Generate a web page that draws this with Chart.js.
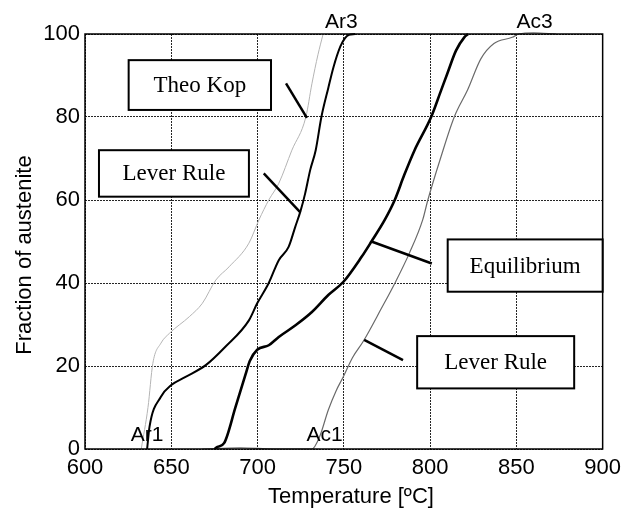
<!DOCTYPE html>
<html>
<head>
<meta charset="utf-8">
<script src="https://cdn.jsdelivr.net/npm/chart.js@4.4.1/dist/chart.umd.min.js"></script>
<style>
  html, body { margin: 0; padding: 0; background: #fff; }
  #wrap { width: 627px; height: 511px; }
</style>
</head>
<body>
<div id="wrap"><canvas id="chart1" width="627" height="511"></canvas></div>
<script>
// temperature [ºC] and austenite fraction [%] for each curve
var theoKopT = [632.6, 636.5, 639.3, 644, 649, 660.5, 668, 675.8, 683.5, 695, 700.8, 706.5, 712.3, 719.9, 728, 731.5, 735, 738];
var theoKopF = [0, 10, 20.6, 25.5, 27.9, 31.9, 35.1, 40.7, 43.9, 49.6, 55.2, 60, 64, 72, 80, 88, 95, 100];

var leverCoolT = [636, 637.4, 644, 650, 658, 670, 681.5, 695, 699.8, 706.5, 712.3, 718, 721.9, 724.8, 727.6, 730.5, 733.7, 737, 741, 744, 748, 750.7, 753, 756.5];
var leverCoolF = [0, 5.4, 12.6, 15.4, 17.3, 20.2, 24.7, 31, 35.1, 40, 45.5, 48.7, 53.6, 57.2, 61.6, 67.2, 72, 80, 87, 92, 97, 99, 99.8, 100];

var equilT = [675, 676.8, 680.6, 687.3, 693, 695.5, 699.8, 706.5, 712.3, 722, 731.5, 741, 749.8, 760.3, 766, 773.7, 779.5, 785, 791, 800.6, 806, 810, 815, 819.8, 822];
var equilF = [0, 0.5, 1.4, 10.2, 17.9, 21.2, 23.9, 25, 27, 29.8, 33, 37.1, 40.3, 46.3, 50, 55.2, 60, 66, 72, 80, 86, 90.5, 96, 99.2, 100];

var leverHeatT = [668, 690, 710, 731.5, 736, 741, 745.5, 749.7, 755, 761.2, 771.8, 779.5, 788, 795.7, 798.7, 806, 814, 821.7, 829.4, 837, 847.6, 851.5, 860, 873];
var leverHeatF = [0, 0.3, 0, 0, 3, 9.4, 14, 17.4, 22, 25.9, 33.9, 39.9, 47.2, 55.2, 60, 70, 80, 86.5, 94, 97.7, 99.2, 100, 100.3, 100];

var xTicks = [600, 650, 700, 750, 800, 850, 900];
var yTicks = [0, 20, 40, 60, 80, 100];

// boxed captions: [text, x1, x2, y1, y2, pointer from (x,y) to (x,y)]
var boxes = [
  ["Theo Kop", 625.3, 707.8, 93.7, 81.7, 716.5, 88.1, 728.6, 79.8],
  ["Lever Rule", 608.1, 695, 72, 60.8, 703.6, 66.4, 724.8, 57],
  ["Equilibrium", 810.2, 900, 50.5, 37.9, 766, 50, 801, 44.7],
  ["Lever Rule", 792.5, 883.5, 27.2, 14.6, 761.8, 26.3, 784.3, 21.4]
];
// critical temperature labels
var critLabels = [["Ar3", 748.5, 102.9], ["Ac3", 860.5, 102.9], ["Ar1", 636, 3.4], ["Ac1", 738.8, 3.4]];

function pts(xs, ys) {
  return xs.map(function (x, i) { return { x: x, y: ys[i] }; });
}

function curve(xs, ys, color, width) {
  return {
    data: pts(xs, ys),
    showLine: true,
    borderColor: color,
    borderWidth: width,
    pointRadius: 0,
    cubicInterpolationMode: "monotone",
    clip: 6
  };
}

var sans = "'Liberation Sans', Arial, sans-serif";
var serif = "'Liberation Serif', 'Times New Roman', serif";

var captions = {
  id: "captions",
  afterDatasetsDraw: function (chart) {
    var c = chart.ctx, xs = chart.scales.x, ys = chart.scales.y, a = chart.chartArea;
    c.save();
    // frame
    c.strokeStyle = "#000";
    c.lineWidth = 1.5;
    c.strokeRect(a.left, a.top, a.right - a.left, a.bottom - a.top);

    boxes.forEach(function (b) {
      var x1 = xs.getPixelForValue(b[1]), x2 = xs.getPixelForValue(b[2]);
      var y1 = ys.getPixelForValue(b[3]), y2 = ys.getPixelForValue(b[4]);
      c.fillStyle = "#fff";
      c.fillRect(x1, y1, x2 - x1, y2 - y1);
      c.lineWidth = 2;
      c.strokeStyle = "#000";
      c.strokeRect(x1, y1, x2 - x1, y2 - y1);
      c.fillStyle = "#000";
      c.font = "23px " + serif;
      c.textAlign = "center";
      c.textBaseline = "middle";
      c.fillText(b[0], (x1 + x2) / 2, (y1 + y2) / 2 + 1);
      c.lineWidth = 2.5;
      c.beginPath();
      c.moveTo(xs.getPixelForValue(b[5]), ys.getPixelForValue(b[6]));
      c.lineTo(xs.getPixelForValue(b[7]), ys.getPixelForValue(b[8]));
      c.stroke();
    });

    c.font = "21px " + sans;
    c.fillStyle = "#000";
    c.textAlign = "center";
    c.textBaseline = "middle";
    critLabels.forEach(function (l) {
      c.fillText(l[0], xs.getPixelForValue(l[1]), ys.getPixelForValue(l[2]));
    });

    // axis titles
    c.font = "22px " + sans;
    c.fillText("Temperature [ºC]", 351, 497);
    c.translate(25, 255);
    c.rotate(-Math.PI / 2);
    c.fillText("Fraction of austenite", 0, 0);
    c.restore();
  }
};

var ctx1 = document.getElementById("chart1").getContext("2d");
var chart1 = new Chart(ctx1, {
  type: "scatter",
  data: {
    datasets: [
      curve(theoKopT, theoKopF, "#b4b4b4", 1),
      curve(leverCoolT, leverCoolF, "#000", 2),
      curve(equilT, equilF, "#000", 2.6),
      curve(leverHeatT, leverHeatF, "#6a6a6a", 1.2)
    ]
  },
  options: {
    responsive: false,
    animation: false,
    layout: { padding: { left: 0, top: 34, right: 21, bottom: 0 } },
    plugins: {
      legend: { display: false },
      tooltip: { enabled: false }
    },
    scales: {
      x: {
        type: "linear",
        min: 600,
        max: 900,
        afterFit: function (s) { s.height = 62; },
        afterBuildTicks: function (s) { s.ticks = xTicks.map(function (v) { return { value: v }; }); },
        grid: { color: "rgba(0,0,0,0.85)", lineWidth: 1, drawTicks: false },
        border: { display: false, dash: [2, 1] },
        ticks: { color: "#000", padding: 6, font: { family: sans, size: 22 } }
      },
      y: {
        min: 0,
        max: 100,
        afterFit: function (s) { s.width = 85; },
        afterBuildTicks: function (s) { s.ticks = yTicks.map(function (v) { return { value: v }; }); },
        grid: { color: "rgba(0,0,0,0.85)", lineWidth: 1, drawTicks: false },
        border: { display: false, dash: [2, 1] },
        ticks: { color: "#000", padding: 5, font: { family: sans, size: 22 } }
      }
    }
  },
  plugins: [captions]
});
</script>
</body>
</html>
